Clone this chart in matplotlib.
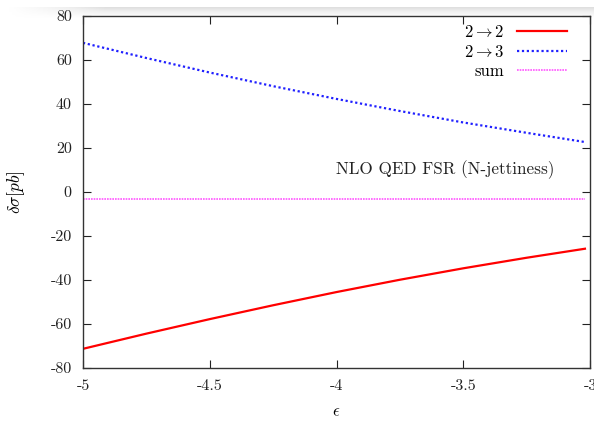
import numpy as np
import matplotlib
matplotlib.use("Agg")
import matplotlib.pyplot as plt

# Werte
eps = [-5.0, -4.75, -4.5, -4.25, -4.0, -3.75, -3.5, -3.25, -3.02]
xs_22 = [-71.3, -64.4, -57.8, -51.5, -45.5, -39.9, -34.7, -29.9, -25.8]
xs_23 = [67.8, 60.9, 54.3, 48.1, 42.3, 36.8, 31.6, 26.9, 22.7]
xs_sum = [-3.0, -3.0, -3.0, -3.0, -3.0, -3.0, -3.0, -3.0, -3.0]

xticks = [-5, -4.5, -4, -3.5, -3]
xticklabels = ["-5", "-4.5", "-4", "-3.5", "-3"]
yticks = [-80, -60, -40, -20, 0, 20, 40, 60, 80]
yticklabels = ["-80", "-60", "-40", "-20", "0", "20", "40", "60", "80"]

plt.rcParams['font.family'] = ['cmr10', 'DejaVu Serif']
plt.rcParams['mathtext.fontset'] = 'cm'
plt.rcParams['axes.unicode_minus'] = False

fig = plt.figure(figsize=(5.94, 4.21), dpi=100)

# grauer Streifen oben (Screenshot-Rand)
band = fig.add_axes([0.013, 0.958, 0.987, 0.026])
grad = np.linspace(1, 0, 20).reshape(-1, 1) * np.minimum(np.linspace(0, 6, 200), 1)
band.imshow(grad, aspect='auto', cmap='Greys', vmin=0, vmax=4.5, extent=[0, 1, 0, 1])
band.axis('off')

ax = fig.add_axes([0.1397, 0.126, 0.8536, 0.836])

ax.plot(eps, xs_22, color='#ff0000', lw=1.6, label=r'$2 \rightarrow 2$')
ax.plot(eps, xs_23, color='#2020ff', lw=1.6, linestyle=(0, (1, 1.2)), label=r'$2 \rightarrow 3$')
ax.plot(eps, xs_sum, color='#ff55ff', lw=1.2, linestyle=(0, (1, 0.6)), label='sum')

ax.set_xlim(-5, -3)
ax.set_ylim(-80, 80)
ax.set_xticks(xticks)
ax.set_xticklabels(xticklabels)
ax.set_yticks(yticks)
ax.set_yticklabels(yticklabels)
ax.tick_params(direction='in', length=6, width=0.8, top=True, right=True,
               labelsize=11.5, pad=8, colors='#222222')
for s in ax.spines.values():
    s.set_linewidth(1.0)
    s.set_color('#333333')

ax.set_xlabel(r'$\epsilon$', fontsize=12, labelpad=8)
ax.set_ylabel(r'$\delta\sigma[pb]$', fontsize=12.5, labelpad=17)

ax.text(-3.57, 10, 'NLO QED FSR (N-jettiness)', fontsize=12.3, ha='center', va='center',
        color='#222222')

leg = ax.legend(loc='upper right', bbox_to_anchor=(0.985, 1.02), frameon=False,
                markerfirst=False, handlelength=3.0, fontsize=12, labelspacing=0.22,
                handletextpad=0.8)

fig.savefig('out.png', dpi=100)
